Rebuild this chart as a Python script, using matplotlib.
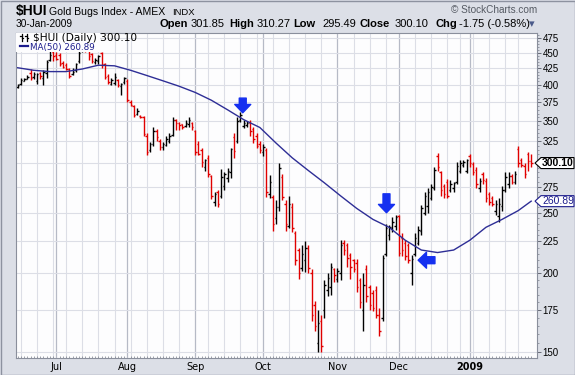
import numpy as np
import pandas as pd
import matplotlib
matplotlib.use("Agg")
import matplotlib.pyplot as plt
from matplotlib.patches import Rectangle, Polygon
from matplotlib.lines import Line2D
from matplotlib.ticker import FixedLocator, NullFormatter
from matplotlib.transforms import IdentityTransform

W, H = 575, 375

# sessions 13-Jun-2008 .. 30-Jan-2009
holidays = ["2008-07-04", "2008-09-01", "2008-11-27", "2008-12-25",
            "2009-01-01", "2009-01-19"]
days = pd.bdate_range("2008-06-13", "2009-01-30")
days = days[~days.isin(pd.to_datetime(holidays))]

opens = [397, 401, 406, 409, 418, 411, 405, 418, 410, 418,
         438, 452, 447, 446, 434, 430, 424, 417, 422, 436,
         455, 464, 456, 448, 435, 436, 450, 432, 414, 402,
         403, 407, 398, 404, 405, 376, 370, 359, 357, 355,
         332, 315, 322, 338, 326, 318, 321, 326, 333, 352,
         348, 346, 344, 346, 348, 338, 322, 315, 296, 306,
         286, 260, 270, 266, 276, 284, 290, 330, 326, 352,
         344, 345, 348, 340, 332, 322, 312, 315, 268, 265,
         245, 255, 285, 258, 238, 255, 232, 218, 204, 210,
         220, 200, 178, 155, 168, 175, 188, 190, 203, 196,
         200, 224, 222, 214, 210, 208, 195, 175, 203, 190,
         186, 188, 172, 170, 215, 230, 236, 238, 247, 228,
         224, 222, 200, 215, 224, 234, 250, 256, 264, 274,
         308, 290, 276, 280, 272, 274, 280, 292, 298, 292,
         308, 299, 293, 274, 288, 281, 268, 264, 252, 247,
         256, 272, 278, 286, 280, 316, 303, 297, 310, 301.85]
highs = [402, 410, 410, 415, 424, 419, 418, 420, 422, 438,
         455, 458, 452, 450, 436, 434, 426, 425, 434, 456,
         470, 468, 458, 450, 442, 447, 452, 434, 417, 410,
         418, 409, 403, 412, 408, 378, 372, 367, 358, 357,
         335, 324, 342, 340, 328, 324, 332, 335, 355, 353,
         349, 347, 351, 355, 349, 339, 326, 317, 305, 309,
         287, 270, 272, 294, 290, 295, 317, 335, 355, 362,
         352, 350, 351, 342, 335, 326, 322, 317, 287, 267,
         262, 300, 288, 262, 266, 259, 234, 220, 222, 225,
         222, 203, 181, 175, 172, 195, 200, 208, 204, 204,
         226, 226, 224, 216, 211, 211, 197, 200, 206, 192,
         188, 191, 176, 214, 240, 239, 246, 248, 248, 232,
         226, 224, 214, 232, 238, 257, 270, 274, 278, 296,
         311, 292, 278, 283, 282, 280, 301, 303, 303, 305,
         310, 301, 296, 284, 290, 284, 270, 266, 262, 264,
         276, 290, 290, 288, 292, 320, 306, 300, 313, 310.27]
lows = [395, 400, 405, 408, 407, 409, 402, 409, 400, 410,
        436, 437, 438, 429, 425, 422, 410, 415, 420, 434,
        452, 451, 438, 434, 432, 432, 426, 409, 402, 400,
        400, 397, 385, 402, 375, 370, 355, 358, 354, 331,
        309, 312, 320, 326, 315, 315, 320, 323, 331, 339,
        339, 340, 343, 343, 339, 309, 309, 296, 292, 285,
        263, 256, 255, 264, 272, 280, 284, 306, 323, 349,
        341, 343, 332, 323, 317, 311, 308, 265, 264, 234,
        240, 252, 262, 234, 236, 233, 206, 196, 202, 201,
        200, 168, 162, 150, 150, 170, 184, 185, 194, 194,
        195, 214, 205, 196, 201, 187, 176, 162, 180, 175,
        174, 170, 159, 168, 213, 226, 233, 235, 213, 213,
        210, 208, 192, 213, 222, 230, 248, 250, 262, 272,
        292, 266, 264, 264, 270, 270, 278, 289, 296, 289,
        296, 287, 274, 270, 278, 260, 257, 256, 248, 242,
        252, 270, 274, 278, 278, 296, 296, 284, 292, 295.49]
closes = [400, 407, 409, 412, 410, 416, 417, 414, 420, 435,
          447, 444, 440, 432, 427, 424, 414, 420, 432, 450,
          462, 455, 445, 436, 439, 444, 430, 412, 404, 407,
          412, 400, 402, 410, 378, 372, 358, 364, 356, 334,
          312, 322, 338, 330, 318, 322, 328, 332, 352, 348,
          345, 343, 348, 352, 342, 312, 310, 301, 303, 288,
          266, 268, 258, 285, 288, 292, 316, 314, 350, 358,
          348, 348, 338, 328, 320, 315, 318, 270, 280, 240,
          255, 295, 265, 240, 258, 236, 210, 200, 215, 220,
          204, 172, 165, 167, 153, 192, 197, 205, 199, 202,
          222, 218, 212, 205, 203, 190, 180, 192, 184, 178,
          176, 172, 162, 212, 236, 237, 242, 246, 216, 218,
          213, 210, 211, 228, 235, 254, 266, 270, 275, 293,
          296, 272, 268, 266, 278, 279, 297, 300, 301, 303,
          300, 290, 278, 281, 282, 264, 260, 258, 258, 258,
          272, 285, 286, 280, 288, 300, 298, 288, 301.85, 300.10]

# MA(50) read every 5th session, plus the last one
ma50 = [426, 422, 420, 420, 424, 430, 429, 422, 414, 406, 398, 389,
        378, 365, 352, 342, 323, 306, 292, 279, 266, 254, 244, 237,
        226, 218, 216, 218, 226, 237, 244, 252, 260.89]

ytick_vals = list(range(150, 476, 25))

fig = plt.figure(figsize=(W / 100, H / 100), dpi=100)
fig.patch.set_facecolor("#dcdfe7")
ax = fig.add_axes([16 / W, 17 / H, 521 / W, 325 / H])
ax.set_facecolor("#fdfdfe")

n = len(days)
x = np.arange(n)
o, hi, lo, c = map(np.array, (opens, highs, lows, closes))
col = np.where(c >= o, "#000000", "#e00000")

week_start = [i for i in range(1, n) if days[i].weekday() < days[i - 1].weekday()]
month_start = [i for i in range(1, n) if days[i].month != days[i - 1].month]
for i in week_start:
    if i not in month_start:
        ax.axvline(i, color="#dcdee6", lw=0.8, zorder=0)
for i in month_start:
    ax.axvline(i, color="#b6bac6", lw=0.9, zorder=0)
for v in ytick_vals:
    ax.axhline(v, color="#dcdee6", lw=0.8, zorder=0)

ax.vlines(x, lo, hi, colors=col, lw=1.0, zorder=2)
ax.hlines(o, x - 0.45, x, colors=col, lw=1.0, zorder=2)
ax.hlines(c, x, x + 0.45, colors=col, lw=1.0, zorder=2)

ma_x = list(range(0, n, 5)) + [n - 1]
ax.plot(ma_x, ma50, color="#2e2e96", lw=1.0, zorder=2.5)

ax.set_yscale("log")
ax.set_ylim(146.6, 484)
ax.set_xlim(-0.5, 160.8)
ax.yaxis.set_major_locator(FixedLocator(ytick_vals))
ax.yaxis.set_minor_locator(FixedLocator(list(range(150, 481, 5))))
ax.yaxis.set_minor_formatter(NullFormatter())
# the 300 label sits under the last-close tag
ax.set_yticklabels(["" if v == 300 else str(v) for v in ytick_vals])
ax.yaxis.tick_right()
ax.tick_params(axis="y", which="major", direction="out", length=3, width=0.6,
               color="#555a66", labelsize=7, pad=1)
ax.tick_params(axis="y", which="minor", direction="out", length=1.5, width=0.5,
               color="#777c88")
for t in ax.get_yticklabels():
    t.set_fontfamily("Liberation Sans")

ax.set_xticks(month_start)
labels = [str(days[i].year) if days[i].month == 1 else days[i].strftime("%b")
          for i in month_start]
ax.set_xticklabels(labels)
ax.set_xticks(x, minor=True)
ax.tick_params(axis="x", which="major", length=0, pad=3, labelsize=7)
ax.tick_params(axis="x", which="minor", direction="in", length=1.5, width=0.5,
               color="#777c88")
ax.get_xticklabels()[-1].set_fontweight("bold")
for s in ax.spines.values():
    s.set_color("#8a8f9c")
    s.set_linewidth(0.8)

# legend panel hides the bars underneath
ax.add_patch(Rectangle((0, 0.9415), 0.161, 0.06, transform=ax.transAxes,
                       fc="#fdfdfe", ec="none", zorder=3))

# signal arrows
arrow = dict(arrowstyle="simple,head_length=0.6,head_width=1.15,tail_width=0.5",
             color="#1530f0", shrinkA=0, shrinkB=0)
ax.annotate("", xy=(69.7, 361), xytext=(69.7, 381), arrowprops=arrow, zorder=4)
ax.annotate("", xy=(114.2, 250), xytext=(114.2, 268), arrowprops=arrow, zorder=4)
ax.annotate("", xy=(124, 210), xytext=(129.2, 210), arrowprops=arrow, zorder=4)


def ftxt(px, py, s, **kw):
    return fig.text(px / W, 1 - py / H, s, va="baseline", **kw)


sans = ["Liberation Sans", "DejaVu Sans"]
ftxt(16, 15.5, r"\$HUI", fontsize=10, weight="bold", family=sans)
ftxt(49, 15, "Gold Bugs Index - AMEX", fontsize=7.6, family=sans)
ftxt(172, 15, "INDX", fontsize=6.8, family=sans)
ftxt(537, 13, "\u00a9 StockCharts.com", fontsize=7.2, color="#555a63",
     ha="right", family=sans)
ftxt(16, 27, "30-Jan-2009", fontsize=7.3, family=sans)
header = [(159, "Open", True), (191, "301.85", False), (229, "High", True),
          (257, "310.27", False), (293, "Low", True), (322, "295.49", False),
          (359, "Close", True), (395, "300.10", False), (436, "Chg", True),
          (459, "-1.75 (-0.58%)", False)]
for px, s, b in header:
    ftxt(px, 27, s, fontsize=8, weight="bold" if b else "normal", family=sans)
ftxt(529, 27, "\u25be", fontsize=8, color="#4a5a8a", family=sans)

# legend inside the plot
ftxt(33, 41, r"\$HUI (Daily) 300.10", fontsize=7.6, family="DejaVu Sans")
ftxt(30, 50, "MA(50) 260.89", fontsize=6.3, color="#1c1c8c", family="DejaVu Sans")
fig.add_artist(Line2D([20, 28], [H - 46, H - 46], color="#1c1c8c", lw=1.6,
                      transform=IdentityTransform()))
for bx in (21.5, 26.5):
    fig.add_artist(Line2D([bx, bx], [H - 34, H - 41], color="black", lw=0.9,
                          transform=IdentityTransform()))
    fig.add_artist(Line2D([bx - 1.5, bx], [H - 36, H - 36], color="black", lw=0.9,
                          transform=IdentityTransform()))
    fig.add_artist(Line2D([bx, bx + 1.5], [H - 38, H - 38], color="black", lw=0.9,
                          transform=IdentityTransform()))


# last-value tags on the price axis
def tag(value, txt, color, bold):
    yd = ax.transData.transform((0, value))[1]
    x0 = ax.transAxes.transform((1, 0))[0]
    pts = [(x0 - 2, yd), (x0 + 4, yd + 5.5), (x0 + 37, yd + 5.5),
           (x0 + 37, yd - 5.5), (x0 + 4, yd - 5.5)]
    fig.add_artist(Polygon(pts, closed=True, fc="white", ec=color, lw=0.8,
                           transform=IdentityTransform(), zorder=5))
    fig.text((x0 + 5) / W, yd / H, txt, va="center", ha="left", fontsize=7.5,
             color=color, weight="bold" if bold else "normal",
             family="Liberation Sans", zorder=6)


tag(closes[-1], f"{closes[-1]:.2f}", "black", True)
tag(ma50[-1], f"{ma50[-1]:.2f}", "#1c1c8c", False)

fig.add_artist(Rectangle((0.5, 0.5), W - 1, H - 1, fill=False, ec="#8d92a0",
                         lw=1.0, transform=IdentityTransform()))

fig.savefig("out.png", dpi=100, facecolor=fig.get_facecolor())
